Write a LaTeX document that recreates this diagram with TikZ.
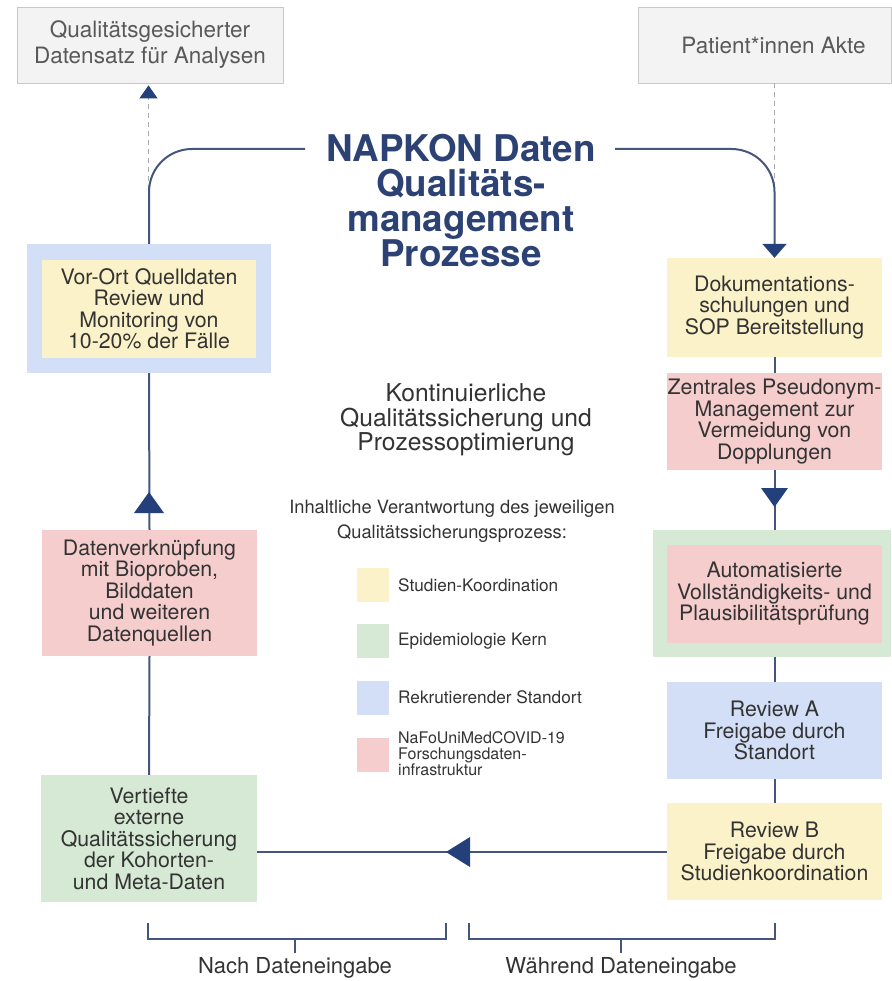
\documentclass[tikz,border=0pt]{standalone}
\usepackage{fontspec}
\setmainfont{TeX Gyre Heros}
\usetikzlibrary{arrows.meta}
\definecolor{boxyellow}{HTML}{FCF2C9}
\definecolor{boxred}{HTML}{F5CDCD}
\definecolor{boxgreen}{HTML}{D6E9D4}
\definecolor{boxblue}{HTML}{D3DEF7}
\definecolor{boxgray}{HTML}{F3F3F3}
\definecolor{graybd}{HTML}{C8C8C8}
\definecolor{conncol}{HTML}{44557E}
\definecolor{navy}{HTML}{24407A}
\definecolor{titlecol}{HTML}{2D4274}
\definecolor{txt}{HTML}{333333}
\definecolor{dashcol}{HTML}{AAAAAA}
\tikzset{
  box/.style={inner sep=0pt, align=center, text=txt, font=\fontsize{21.3}{21.5}\selectfont},
  graybox/.style={box, fill=boxgray, draw=graybd, line width=0.8pt, text=black!65, font=\fontsize{22.5}{26}\selectfont},
  conn/.style={draw=conncol, line width=2pt},
  dashline/.style={draw=dashcol, line width=1pt, dash pattern=on 5pt off 4pt},
  tri/.style={fill=navy},
  legsq/.style={minimum width=32, minimum height=34, inner sep=0pt},
  legtxt/.style={anchor=west, align=left, text=txt, font=\fontsize{17.2}{17.5}\selectfont, inner sep=0pt},
  legtxtsmall/.style={anchor=west, align=left, text=txt, font=\fontsize{16}{16}\selectfont, inner sep=0pt},
  brace/.style={draw=conncol, line width=1.3pt},
  bottomlabel/.style={inner sep=0pt, text=txt, font=\fontsize{22}{24}\selectfont},
}
\begin{document}
\begin{tikzpicture}[x=1pt,y=-1pt]
\useasboundingbox (0,0) rectangle (891,981);

% top gray boxes
\node[graybox, minimum width=266, minimum height=76] (qds) at (150,45) {Qualitätsgesicherter\\Datensatz für Analysen};
\node[graybox, minimum width=253, minimum height=76] (pat) at (764.5,45) {\hspace*{18pt}Patient*innen Akte};

% title
\node[inner sep=0pt, align=center, text=titlecol, font=\fontsize{36.8}{35}\selectfont\bfseries] (title) at (461,201) {NAPKON Daten\\Qualitäts-\\management\\Prozesse};

% left column
\node[box, fill=boxblue, minimum width=244, minimum height=129] (vorouter) at (149,308.5) {};
\node[box, fill=boxyellow, minimum width=214, minimum height=98] (vor) at (149,309) {Vor-Ort Quelldaten\\Review und\\Monitoring von\\10-20\% der Fälle};
\node[box, fill=boxred, minimum width=215, minimum height=126] (dv) at (149.5,593) {Datenverknüpfung\\mit Bioproben,\\Bilddaten\\und weiteren\\Datenquellen};
\node[box, fill=boxgreen, minimum width=216, minimum height=127] (vert) at (149,838.5) {Vertiefte\\externe\\Qualitätssicherung\\der Kohorten-\\und Meta-Daten};

% right column
\node[box, fill=boxyellow, minimum width=215, minimum height=99] (doc) at (774.5,307.5) {Dokumentations-\\schulungen und\\SOP Bereitstellung};
\node[box, fill=boxred, minimum width=215, minimum height=97] (zpm) at (774.5,421.5) {Zentrales Pseudonym-\\Management zur\\Vermeidung von\\Dopplungen};
\node[box, fill=boxgreen, minimum width=238, minimum height=127] (autoouter) at (772,593.5) {};
\node[box, fill=boxred, minimum width=215, minimum height=98] (auto) at (774.5,594) {Automatisierte\\Vollständigkeits- und\\Plausibilitätsprüfung};
\node[box, fill=boxblue, minimum width=215, minimum height=97] (revA) at (774.5,730.5) {Review A\\Freigabe durch\\Standort};
\node[box, fill=boxyellow, minimum width=215, minimum height=97] (revB) at (774.5,851.5) {Review B\\Freigabe durch\\Studienkoordination};

% centre texts
\node[inner sep=0pt, align=center, text=txt, font=\fontsize{24.6}{24.6}\selectfont] (kont) at (466,420) {Kontinuierliche\\Qualitätssicherung und\\Prozessoptimierung};
\node[inner sep=0pt, align=center, text=txt, font=\fontsize{18.3}{25}\selectfont] (leghead) at (452,521) {Inhaltliche Verantwortung des jeweiligen\\Qualitätssicherungsprozess:};

% legend
\node[legsq, fill=boxyellow] (ly) at (373,584.5) {};
\node[legsq, fill=boxgreen] (lg) at (373,641) {};
\node[legsq, fill=boxblue] (lb) at (373,697.5) {};
\node[legsq, fill=boxred] (lr) at (373,754.5) {};
\node[legtxt] (lyt) at (398,585) {Studien-Koordination};
\node[legtxt] (lgt) at (398,641) {Epidemiologie Kern};
\node[legtxt] (lbt) at (398,697) {Rekrutierender Standort};
\node[legtxtsmall] (lrt) at (398,754) {NaFoUniMedCOVID-19\\Forschungsdaten-\\infrastruktur};

% coordinates
\coordinate (tl) at (305,149);
\coordinate (tr) at (615,149);
\coordinate (patfoot) at (774,83);

% dashed links
\draw[dashline] (patfoot) -- (774,200);
\draw[dashline, -{Triangle[width=18pt,length=13pt,color=navy]}, shorten >=2pt] (148.5,190) -- (qds.south -| 148.5,0);

% main loop
\draw[conn, rounded corners=43pt] (vorouter.north) -- (149,149) -- (tl);
\draw[conn, rounded corners=43pt, -{Triangle[width=24pt,length=14pt,color=navy]}] (tr) -- (774.5,149) -- (doc.north);
\draw[conn] (doc.south) -- (zpm.north);
\draw[conn] (zpm.south) -- (autoouter.north -| zpm.south);
\draw[conn] (autoouter.south -| revA.north) -- (revA.north);
\draw[conn] (revA.south) -- (revB.north);
\draw[conn] (revB.west) -- (vert.east |- revB.west);
\draw[conn] (vert.north) -- (dv.south);
\draw[conn] (dv.north) -- (vorouter.south);

% mid-line triangles
\fill[tri] (761,488) -- (788,488) -- (774.5,507) -- cycle;
\fill[tri] (134,513) -- (164,513) -- (149,492) -- cycle;
\fill[tri] (470,837) -- (470,867) -- (446,852) -- cycle;

% brackets
\draw[brace] (148,923) -- (148,939) -- (446,939) -- (446,923);
\draw[brace] (295,939) -- (295,953);
\draw[brace] (469,923) -- (469,939) -- (775,939) -- (775,923);
\draw[brace] (621,939) -- (621,953);
\node[bottomlabel] (nach) at (295,968) {Nach Dateneingabe};
\node[bottomlabel] (waehrend) at (621,968) {Während Dateneingabe};
\end{tikzpicture}
\end{document}
